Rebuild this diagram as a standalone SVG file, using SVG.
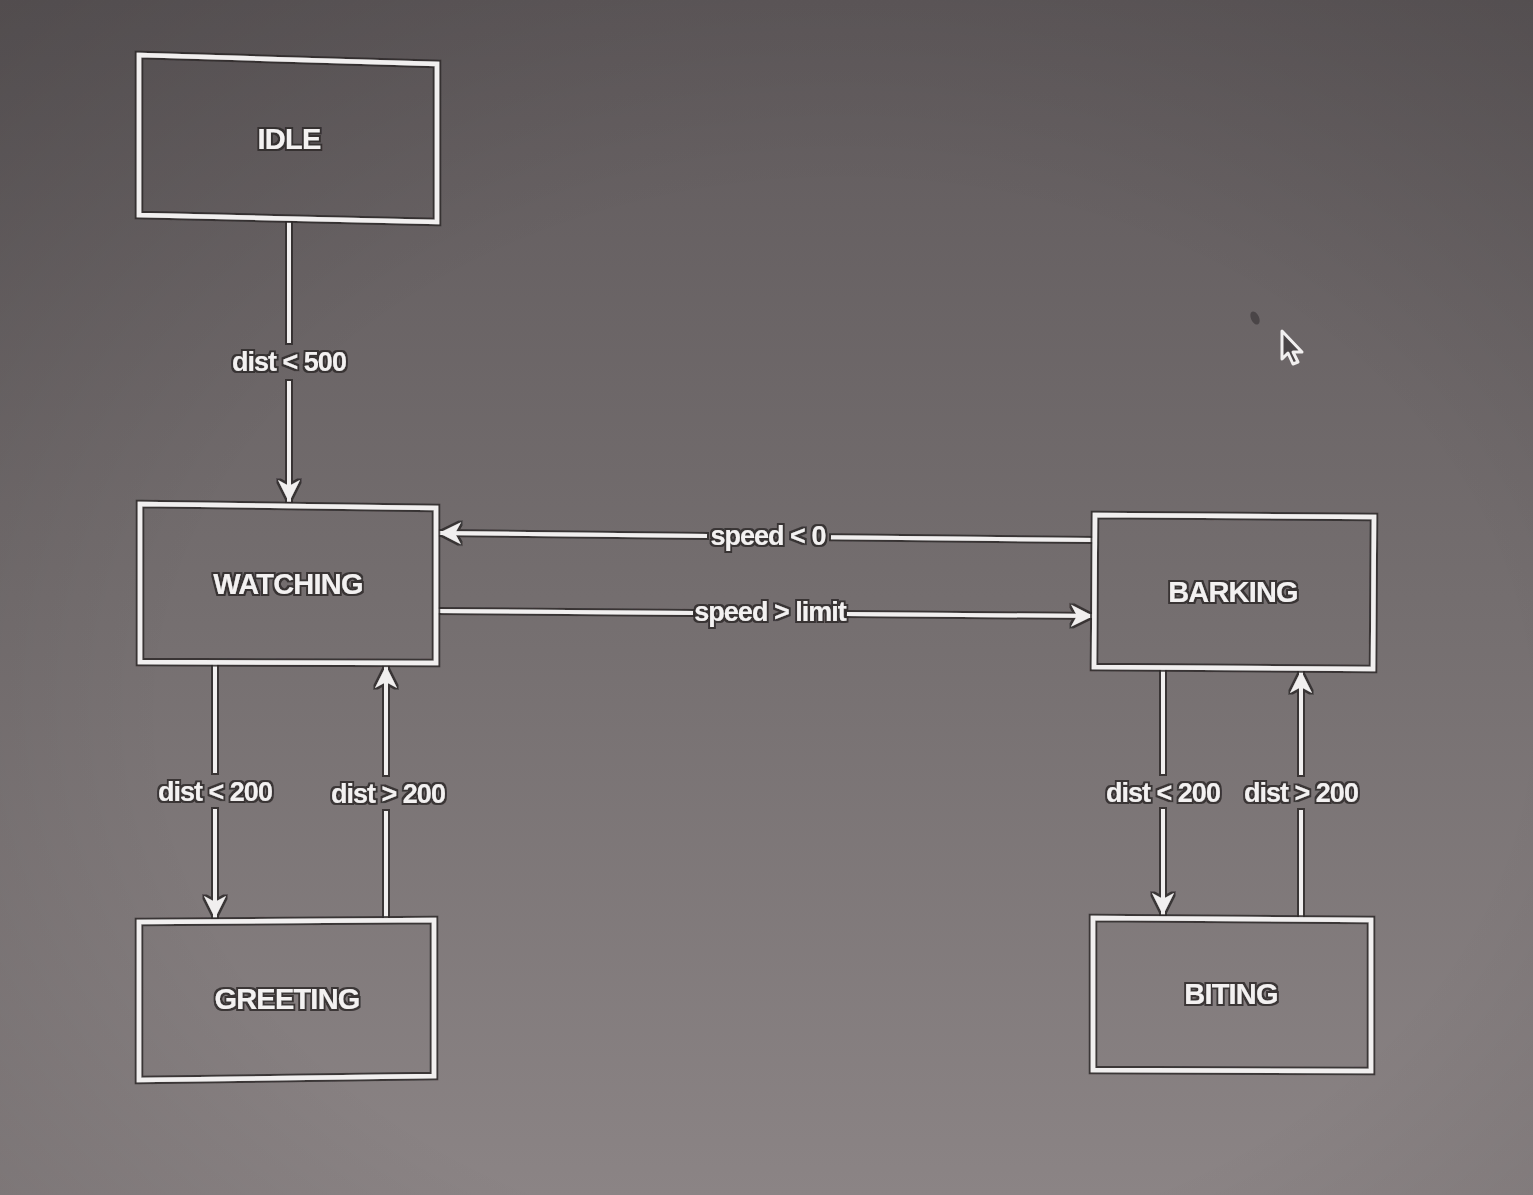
<svg xmlns="http://www.w3.org/2000/svg" width="1533" height="1195" viewBox="0 0 1533 1195">
  <defs>
    <linearGradient id="bg" x1="0" y1="0" x2="0" y2="1">
      <stop offset="0" stop-color="#605a5c"/>
      <stop offset="0.5" stop-color="#746e6f"/>
      <stop offset="1" stop-color="#8b8485"/>
    </linearGradient>
    <radialGradient id="vig" cx="0.55" cy="0.6" r="0.8">
      <stop offset="0.55" stop-color="#000" stop-opacity="0"/>
      <stop offset="1" stop-color="#000" stop-opacity="0.15"/>
    </radialGradient>
    <filter id="halo" x="-5%" y="-5%" width="110%" height="110%">
      <feMorphology in="SourceAlpha" operator="dilate" radius="1.8" result="d"/>
      <feFlood flood-color="#2e2a2b" flood-opacity="0.85"/>
      <feComposite in2="d" operator="in" result="o"/>
      <feMerge>
        <feMergeNode in="o"/>
        <feMergeNode in="SourceGraphic"/>
      </feMerge>
    </filter>
    <marker id="arr" viewBox="-24 -13 26 26" refX="0" refY="0" markerWidth="26" markerHeight="26" markerUnits="userSpaceOnUse" orient="auto">
      <path d="M0,0 L-22,-11 L-16,0 L-22,11 Z" fill="#f1efef"/>
    </marker>
    <style>
      .box { fill: none; stroke: #f1efef; stroke-width: 4.5; stroke-linejoin: miter; }
      .name { font-family: "Liberation Sans", Arial, sans-serif; font-size: 29px; font-weight: bold; fill: #f3f1f1; text-anchor: middle; letter-spacing: -0.8px; }
      .lbl { font-family: "Liberation Sans", Arial, sans-serif; font-size: 27px; font-weight: bold; fill: #f3f1f1; text-anchor: middle; letter-spacing: -1px; }
      .edge { fill: none; stroke: #f1efef; stroke-width: 4; marker-end: url(#arr); }
    </style>
  </defs>

  <rect x="0" y="0" width="1533" height="1195" fill="url(#bg)"/>
  <rect x="0" y="0" width="1533" height="1195" fill="url(#vig)"/>

  <g id="connectors" filter="url(#halo)">
    <path class="edge" d="M289,222 L289,343 M289,381 L289,502"/>
    <path class="edge" d="M1094,540 L831,537.2 M707,535.9 L439,533"/>
    <path class="edge" d="M437,611 L693,613 M847,614 L1093,616"/>
    <path class="edge" d="M215,663 L215,773 M215,809 L215,918"/>
    <path class="edge" d="M386,918 L386,811 M386,775 L386,666"/>
    <path class="edge" d="M1163,669 L1163,774 M1163,809 L1163,915"/>
    <path class="edge" d="M1301,918 L1301,810 M1301,775 L1301,671"/>
  </g>

  <g id="labels" filter="url(#halo)">
    <text class="lbl" x="289" y="371">dist &lt; 500</text>
    <text class="lbl" x="768" y="545">speed &lt; 0</text>
    <text class="lbl" x="770" y="621">speed &gt; limit</text>
    <text class="lbl" x="215" y="801">dist &lt; 200</text>
    <text class="lbl" x="388" y="803">dist &gt; 200</text>
    <text class="lbl" x="1163" y="802">dist &lt; 200</text>
    <text class="lbl" x="1301" y="802">dist &gt; 200</text>
  </g>

  <g id="idle" filter="url(#halo)">
    <polygon class="box" points="139,55 437,64 437,222 139,215"/>
    <text class="name" x="289" y="149">IDLE</text>
  </g>
  <g id="watching" filter="url(#halo)">
    <polygon class="box" points="140,504 436,508 436,663 140,662"/>
    <text class="name" x="288" y="594">WATCHING</text>
  </g>
  <g id="barking" filter="url(#halo)">
    <polygon class="box" points="1095,515 1374,517 1373,669 1094,667"/>
    <text class="name" x="1233" y="602">BARKING</text>
  </g>
  <g id="greeting" filter="url(#halo)">
    <polygon class="box" points="139,922 434,920 434,1076 139,1080"/>
    <text class="name" x="287" y="1009">GREETING</text>
  </g>
  <g id="biting" filter="url(#halo)">
    <polygon class="box" points="1093,918 1371,920 1371,1071 1093,1070"/>
    <text class="name" x="1231" y="1004">BITING</text>
  </g>

  <g id="cursor">
    <ellipse cx="1255" cy="318" rx="4" ry="7" fill="#4a4547" transform="rotate(-25 1255 318)"/>
    <polygon points="1282,331 1282,359 1288,353 1293,364 1298,362 1293,352 1302,352" fill="#4a4547" stroke="#f1efef" stroke-width="3" stroke-linejoin="round"/>
  </g>
</svg>
